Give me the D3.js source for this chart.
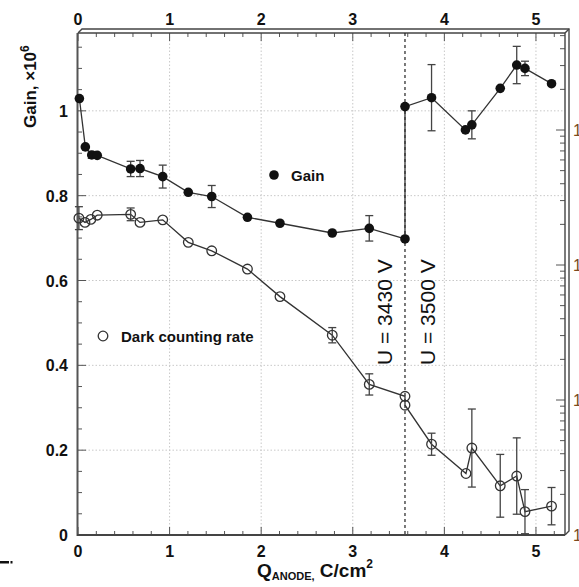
<!DOCTYPE html>
<html>
<head>
<meta charset="utf-8">
<script src="https://cdn.jsdelivr.net/npm/d3@7"></script>
<style>
  html, body { margin: 0; padding: 0; background: #fff; }
  svg { display: block; font-family: "Liberation Sans", Arial, Helvetica, sans-serif; }
</style>
</head>
<body>
<svg id="chart" width="579" height="587"></svg>
<script>
// Gain vs accumulated anode charge (left axis, x10^6)
const gainQ   = [0.015, 0.08, 0.15, 0.21, 0.575, 0.677, 0.925, 1.204, 1.46, 1.85, 2.205, 2.776, 3.18, 3.57, 3.57, 3.86, 4.23, 4.30, 4.61, 4.79, 4.88, 5.17];
const gainVal = [1.029, 0.915, 0.896, 0.895, 0.863, 0.864, 0.845, 0.808, 0.798, 0.749, 0.735, 0.712, 0.723, 0.698, 1.010, 1.031, 0.955, 0.967, 1.053, 1.108, 1.100, 1.064];
const gainErr = [0, 0, 0.008, 0, 0.018, 0.019, 0.027, 0, 0.026, 0, 0, 0, 0.030, 0, 0, 0.078, 0, 0.033, 0, 0.044, 0.017, 0];

// Dark counting rate, drawn in left-axis units
const rateQ   = [0.01, 0.076, 0.14, 0.21, 0.575, 0.677, 0.925, 1.204, 1.46, 1.85, 2.205, 2.776, 3.18, 3.57, 3.57, 3.86, 4.236, 4.30, 4.61, 4.79, 4.88, 5.17];
const rateVal = [0.747, 0.737, 0.744, 0.754, 0.756, 0.737, 0.743, 0.690, 0.670, 0.627, 0.562, 0.471, 0.355, 0.327, 0.306, 0.214, 0.145, 0.205, 0.116, 0.139, 0.055, 0.068];
const rateErr = [0.027, 0, 0, 0, 0.015, 0, 0, 0, 0, 0, 0, 0.018, 0.025, 0, 0, 0.026, 0, 0.092, 0.074, 0.090, 0.052, 0.044];

const xTicks = [0, 1, 2, 3, 4, 5];
const yTicks = [0, 0.2, 0.4, 0.6, 0.8, 1];
const yTickLabels = ["0", "0.2", "0.4", "0.6", "0.8", "1"];
const rightTicks = [1, 10, 100, 1000];
const rightTickLabels = ["1", "10", "10\u00B2", "10\u00B3"];
const voltageQ = 3.57;
const voltageLabels = ["U = 3430 V", "U = 3500 V"];

const svg = d3.select("#chart");
const L = 78, R = 565, T = 33, B = 535;

const x = d3.scaleLinear().domain([0, 5.317]).range([L, R]);
const y = d3.scaleLinear().domain([0, 1.1835]).range([B, T]);
const yR = d3.scaleLog().domain([1, Math.pow(10, (B - T) / 135)]).range([B, T]);

const ink = "#333";

// grid
const grid = svg.append("g").attr("stroke", "#c8c8c8").attr("stroke-width", 1).attr("stroke-dasharray", "1.5,2");
xTicks.filter(d => d > 0).forEach(d => {
  grid.append("line").attr("x1", x(d)).attr("x2", x(d)).attr("y1", T).attr("y2", B);
});
yTicks.filter(d => d > 0).forEach(d => {
  grid.append("line").attr("x1", L).attr("x2", R).attr("y1", y(d)).attr("y2", y(d));
});

// axis ticks (inward)
const ticks = svg.append("g").attr("stroke", "#555").attr("stroke-width", 1);
d3.range(0, 5.31, 0.2).forEach(v => {
  const major = Math.abs(v - Math.round(v)) < 1e-6;
  const len = major ? 8 : 4;
  ticks.append("line").attr("x1", x(v)).attr("x2", x(v)).attr("y1", B).attr("y2", B - len);
  ticks.append("line").attr("x1", x(v)).attr("x2", x(v)).attr("y1", T).attr("y2", T + len);
});
d3.range(0, 1.18, 0.05).forEach(v => {
  const major = Math.abs(v * 5 - Math.round(v * 5)) < 1e-6;
  const len = major ? 8 : 4;
  ticks.append("line").attr("x1", L).attr("x2", L + len).attr("y1", y(v)).attr("y2", y(v));
});
// right log axis ticks
rightTicks.forEach(dec => {
  for (let k = 1; k <= 9; k++) {
    const v = dec * k;
    if (v > yR.domain()[1]) break;
    const len = k === 1 ? 9 : 5;
    ticks.append("line").attr("x1", R).attr("x2", R - len).attr("y1", yR(v)).attr("y2", yR(v));
  }
});

// frame with raised edges
const frame = svg.append("g").attr("fill", "none").attr("stroke", "#444").attr("stroke-width", 1.4);
frame.append("path").attr("d", `M${L},${T} L${R},${T} L${R},${B}`);
frame.append("path").attr("d", `M${L},${T} L${L + 4},${T - 4} L${R + 4},${T - 4} L${R + 4},${B - 4} L${R},${B}`);
frame.append("line").attr("x1", R).attr("y1", T).attr("x2", R + 4).attr("y2", T - 4);
svg.append("line").attr("x1", L - 0.5).attr("x2", L - 0.5).attr("y1", T).attr("y2", B + 1)
  .attr("stroke", "#555").attr("stroke-width", 2);
svg.append("line").attr("x1", L - 1).attr("x2", R).attr("y1", B).attr("y2", B)
  .attr("stroke", "#444").attr("stroke-width", 2);

// tick labels
const tl = svg.append("g").attr("font-weight", "bold").attr("font-size", 16).attr("fill", "#111");
xTicks.forEach(d => {
  tl.append("text").attr("x", x(d)).attr("y", 557).attr("text-anchor", "middle").text(d);
  tl.append("text").attr("x", x(d)).attr("y", 25).attr("text-anchor", "middle").text(d);
});
yTicks.forEach((d, i) => {
  tl.append("text").attr("x", 68).attr("y", y(d) + 6).attr("text-anchor", "end").text(yTickLabels[i]);
});
// right-hand log axis labels run past the edge of the page
rightTicks.forEach((d, i) => {
  svg.append("text").attr("x", 573).attr("y", yR(d) + 6).attr("font-size", 16)
    .attr("fill", "#7a4a22").text(rightTickLabels[i]);
});

// axis titles
const yTitle = svg.append("text").attr("transform", "translate(36,128) rotate(-90)")
  .attr("font-weight", "bold").attr("font-size", 17).attr("fill", "#111");
yTitle.append("tspan").text("Gain, \u00D710");
yTitle.append("tspan").attr("dy", -7).attr("font-size", 12).text("6");

const xTitle = svg.append("text").attr("x", 257).attr("y", 577)
  .attr("font-weight", "bold").attr("font-size", 19).attr("fill", "#111");
xTitle.append("tspan").text("Q");
xTitle.append("tspan").attr("font-size", 11).attr("dy", 3).text("ANODE,");
xTitle.append("tspan").attr("dy", -3).text(" C/cm");
xTitle.append("tspan").attr("font-size", 12).attr("dy", -9).text("2");

// voltage change marker
svg.append("line").attr("x1", x(voltageQ)).attr("x2", x(voltageQ)).attr("y1", T).attr("y2", B)
  .attr("stroke", "#222").attr("stroke-width", 1.2).attr("stroke-dasharray", "3,3");
[392, 435].forEach((bx, i) => {
  svg.append("text").attr("transform", `translate(${bx},365) rotate(-90)`)
    .attr("font-size", 21).attr("fill", "#111").text(voltageLabels[i]);
});

const line = d3.line().x(d => x(d[0])).y(d => y(d[1]));

// error bars
function errorBars(qs, vals, errs) {
  const g = svg.append("g").attr("stroke", "#444").attr("stroke-width", 1.3);
  qs.forEach((q, i) => {
    const e = errs[i];
    if (!e) return;
    const cx = x(q), lo = y(Math.max(0, vals[i] - e)), hi = y(vals[i] + e);
    g.append("line").attr("x1", cx).attr("x2", cx).attr("y1", lo).attr("y2", hi);
    g.append("line").attr("x1", cx - 4).attr("x2", cx + 4).attr("y1", hi).attr("y2", hi);
    g.append("line").attr("x1", cx - 4).attr("x2", cx + 4).attr("y1", lo).attr("y2", lo);
  });
}

// dark counting rate
svg.append("path").datum(d3.zip(rateQ, rateVal)).attr("d", line)
  .attr("fill", "none").attr("stroke", ink).attr("stroke-width", 1.3);
errorBars(rateQ, rateVal, rateErr);
svg.append("g").selectAll("circle").data(d3.zip(rateQ, rateVal)).join("circle")
  .attr("cx", d => x(d[0])).attr("cy", d => y(d[1])).attr("r", 4.8)
  .attr("fill", "none").attr("stroke", ink).attr("stroke-width", 1.3);

// gain
svg.append("path").datum(d3.zip(gainQ, gainVal)).attr("d", line)
  .attr("fill", "none").attr("stroke", ink).attr("stroke-width", 1.3);
errorBars(gainQ, gainVal, gainErr);
svg.append("g").selectAll("circle").data(d3.zip(gainQ, gainVal)).join("circle")
  .attr("cx", d => x(d[0])).attr("cy", d => y(d[1])).attr("r", 4.8).attr("fill", "#111");

// legend
svg.append("circle").attr("cx", 274).attr("cy", 175).attr("r", 4.8).attr("fill", "#111");
svg.append("text").attr("x", 291).attr("y", 181).attr("font-weight", "bold").attr("font-size", 15)
  .attr("fill", "#111").text("Gain");
svg.append("circle").attr("cx", 103).attr("cy", 336).attr("r", 4.8)
  .attr("fill", "none").attr("stroke", ink).attr("stroke-width", 1.3);
svg.append("text").attr("x", 121).attr("y", 342).attr("font-weight", "bold").attr("font-size", 15)
  .attr("fill", "#111").text("Dark counting rate");

// partial mark at lower left margin
svg.append("rect").attr("x", 0).attr("y", 561).attr("width", 9).attr("height", 2.5).attr("fill", "#111");
svg.append("rect").attr("x", 10.5).attr("y", 561).attr("width", 2).attr("height", 2.5).attr("fill", "#111");
</script>
</body>
</html>
